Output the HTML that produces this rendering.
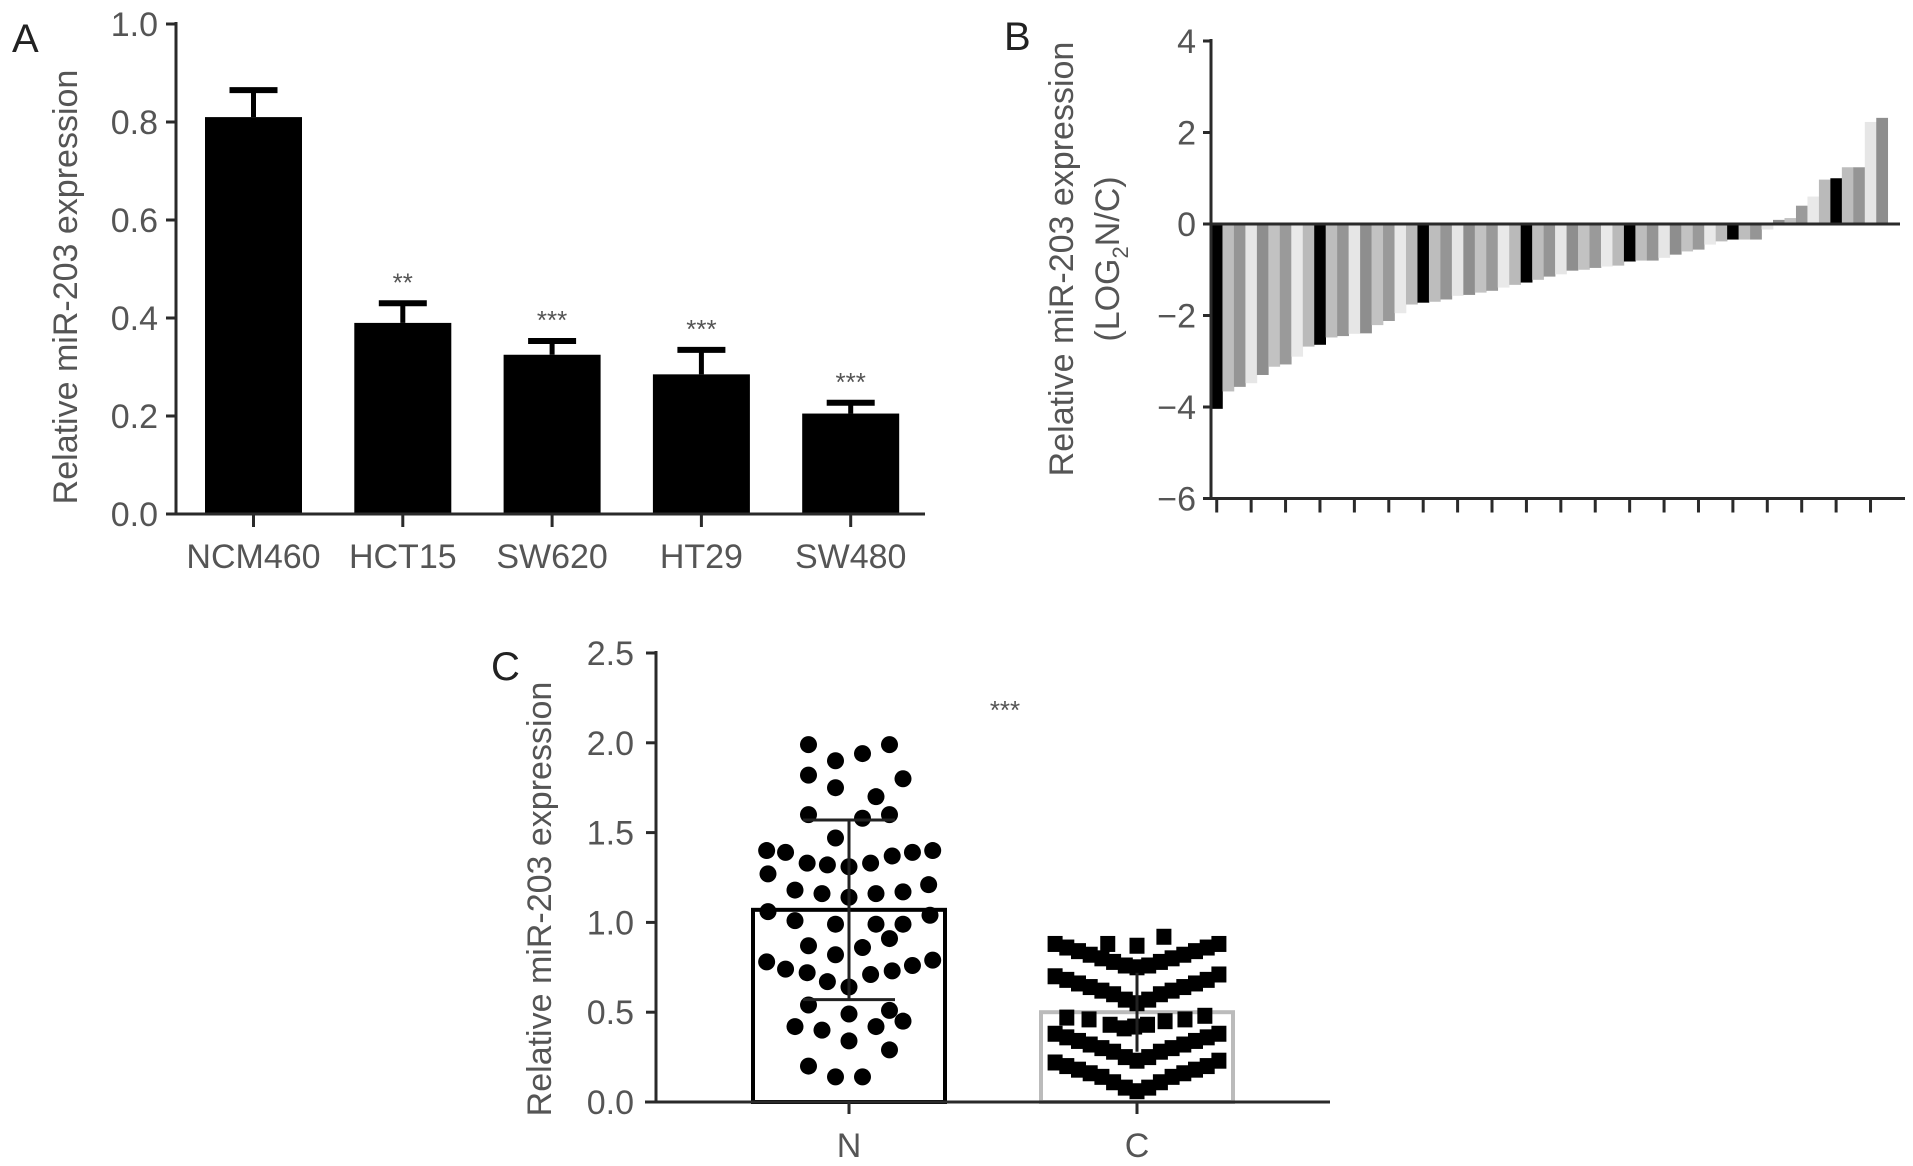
<!DOCTYPE html>
<html><head><meta charset="utf-8"><style>
html,body{margin:0;padding:0;background:#fff;}
svg{display:block;font-family:"Liberation Sans",sans-serif;}
.tk{font-size:34px;fill:#555;}
.ttl{font-size:34px;fill:#555;}
.pl{font-size:40px;fill:#222;}
</style></head><body>
<svg id="fig" width="1913" height="1166" viewBox="0 0 1913 1166" xmlns="http://www.w3.org/2000/svg">
<g id="pa"></g>
<g id="pb"></g>
<g id="pc"></g>
</svg>
<script>
// Panel A data
const aCats = ["NCM460","HCT15","SW620","HT29","SW480"];
const aVals = [0.81,0.39,0.325,0.285,0.205];
const aErr = [0.055,0.04,0.028,0.05,0.022];
const aStars = ["","**","***","***","***"];
const aTicks = ["0.0","0.2","0.4","0.6","0.8","1.0"];
// Panel B data
const bVals = [-4.04,-3.66,-3.56,-3.48,-3.30,-3.12,-3.07,-2.90,-2.68,-2.64,-2.48,-2.45,-2.40,-2.39,-2.21,-2.12,-1.95,-1.76,-1.72,-1.70,-1.65,-1.57,-1.55,-1.50,-1.46,-1.39,-1.33,-1.28,-1.22,-1.15,-1.10,-1.02,-1.00,-0.96,-0.93,-0.91,-0.82,-0.80,-0.80,-0.74,-0.67,-0.60,-0.56,-0.45,-0.38,-0.34,-0.34,-0.34,-0.12,0.09,0.13,0.40,0.60,0.97,1.00,1.24,1.24,2.23,2.32];
const bTicks = ["−6","−4","−2","0","2","4"];
const bTickVals = [-6,-4,-2,0,2,4];
// Panel C data
const cCats = ["N","C"];
const cMeans = [1.07,0.50];
const cSD = [0.50,0.22];
const cTicks = ["0.0","0.5","1.0","1.5","2.0","2.5"];
const nVals = [1.99,1.99,1.94,1.90,1.82,1.80,1.75,1.70,1.60,1.60,1.58,1.47,1.40,1.39,1.40,1.39,1.37,1.33,1.32,1.31,1.33,1.27,1.21,1.18,1.16,1.14,1.16,1.17,1.06,1.04,1.01,0.99,0.99,0.99,0.91,0.87,0.86,0.82,0.78,0.74,0.72,0.67,0.64,0.71,0.73,0.76,0.79,0.54,0.51,0.49,0.45,0.42,0.40,0.42,0.34,0.29,0.20,0.14,0.14];
const nCols = [-3,3,1,-1,-3,4,-1,2,-3,3,1,-1,-6.1,-4.7,6.2,4.7,3.2,-3.1,-1.6,0,1.6,-6,5.9,-4,-2,0,2,4,-6,6,-4,-1,2,4,3,-3,1,-1,-6.1,-4.7,-3.1,-1.6,0,1.6,3.2,4.7,6.2,-3,3,0,4,-4,-2,2,0,3,-3,-1,1];
const cValsTop = [0.88,0.87,0.92];
const cColsTop = [-2.5,0,2.3];
const cRowCols = [-7,-6,-5,-4,-3,-2,-1,0,1,2,3,4,5,6,7];
const cRow1 = [0.88,0.86,0.84,0.82,0.80,0.78,0.76,0.75,0.76,0.78,0.80,0.82,0.84,0.86,0.88];
const cRow2 = [0.70,0.68,0.66,0.64,0.62,0.60,0.57,0.55,0.57,0.60,0.62,0.64,0.66,0.68,0.71];
const cRow3 = [0.47,0.46,0.43,0.41,0.42,0.43,0.45,0.46,0.48];
const cRow3Cols = [-6,-4.1,-2.3,-1.1,-0.2,0.9,2.4,4.1,5.8];
const cRow4 = [0.38,0.36,0.34,0.32,0.30,0.28,0.25,0.23,0.25,0.28,0.30,0.32,0.34,0.36,0.38];
const cRow5 = [0.22,0.20,0.18,0.16,0.14,0.11,0.08,0.06,0.08,0.11,0.14,0.16,0.18,0.20,0.23];

const NS="http://www.w3.org/2000/svg";
function mk(p,tag,at){const e=document.createElementNS(NS,tag);for(const k in at)e.setAttribute(k,at[k]);p.appendChild(e);return e;}
function txt(p,x,y,s,cls,anchor,extra){const t=mk(p,"text",Object.assign({x:x,y:y,class:cls,"text-anchor":anchor||"middle"},extra||{}));t.textContent=s;return t;}
const AX="#2a2a2a";

// ---------- Panel A ----------
const pa=document.getElementById("pa");
const yA=v=>514-v*490;
const xA=i=>253.5+i*149.3;
let e;
e=txt(pa,12,52,"A","pl","start");


e=txt(pa,0,0,"Relative miR-203 expression","ttl","middle",{transform:"translate(77,287) rotate(-90)"});


aTicks.forEach((t,i)=>{
  const v=i*0.2;
  e=mk(pa,"line",{x1:166,x2:176,y1:yA(v),y2:yA(v),stroke:AX,"stroke-width":3});
  
  
  e=txt(pa,158,yA(v)+12,t,"tk","end");
  
  
});
aVals.forEach((v,i)=>{
  const cx=xA(i);
  e=mk(pa,"line",{x1:cx,x2:cx,y1:yA(v),y2:yA(v+aErr[i]),stroke:"#000","stroke-width":5});
  
  
  e=mk(pa,"line",{x1:cx-24,x2:cx+24,y1:yA(v+aErr[i]),y2:yA(v+aErr[i]),stroke:"#000","stroke-width":6});
  
  
  e=mk(pa,"rect",{x:cx-48.5,y:yA(v),width:97,height:yA(0)-yA(v),fill:"#000"});
  
  
  e=mk(pa,"line",{x1:cx,x2:cx,y1:514,y2:527,stroke:AX,"stroke-width":3});
  
  
  e=txt(pa,cx,568,aCats[i],"tk","middle");
  
  
  if(aStars[i]){
    e=txt(pa,cx,yA(v+aErr[i])-12,aStars[i],"tk","middle",{style:"font-size:26px"});
    
    
  }
});
e=mk(pa,"line",{x1:176,x2:176,y1:22,y2:515,stroke:AX,"stroke-width":3});


e=mk(pa,"line",{x1:166,x2:925,y1:514,y2:514,stroke:AX,"stroke-width":3});



// ---------- Panel B ----------
const pb=document.getElementById("pb");
const yB=v=>224-v*45.75;
const bw=11.47;
const xB=i=>1211+i*bw;
const bPal=["#000","#bdbdbd","#959595","#e6e6e6","#8e8e8e","#c2c2c2","#9a9a9a","#e9e9e9","#bababa"];
e=txt(pb,1004,50,"B","pl","start");


e=txt(pb,0,0,"Relative miR-203 expression","ttl","middle",{transform:"translate(1073,259) rotate(-90)"});


e=mk(pb,"text",{class:"ttl","text-anchor":"middle",transform:"translate(1119,259) rotate(-90)"});
e.innerHTML='(LOG<tspan dy="9" style="font-size:22px">2</tspan><tspan dy="-9">N/C)</tspan>';


bVals.forEach((v,i)=>{
  const y0=Math.min(yB(0),yB(v)),h=Math.abs(yB(v)-yB(0));
  e=mk(pb,"rect",{x:xB(i),y:y0,width:bw+0.3,height:h,fill:bPal[i%9]});
  
  
});
bTickVals.forEach((v,i)=>{
  e=mk(pb,"line",{x1:1203,x2:1212,y1:yB(v),y2:yB(v),stroke:AX,"stroke-width":3});
  
  
  e=txt(pb,1196,yB(v)+12,bTicks[i],"tk","end");
  
  
});
for(let k=0;k<20;k++){
  const cx=xB(3*k)+bw/2;
  e=mk(pb,"line",{x1:cx,x2:cx,y1:yB(-6),y2:yB(-6)+14,stroke:AX,"stroke-width":3});
  
  
}
e=mk(pb,"line",{x1:1211,x2:1900,y1:yB(0),y2:yB(0),stroke:AX,"stroke-width":3});


e=mk(pb,"line",{x1:1211,x2:1905,y1:yB(-6),y2:yB(-6),stroke:AX,"stroke-width":3});


e=mk(pb,"line",{x1:1211,x2:1211,y1:yB(4)-2,y2:yB(-6)+1,stroke:AX,"stroke-width":3});



// ---------- Panel C ----------
const pc=document.getElementById("pc");
const yC=v=>1102-v*179.6;
const xC=[849,1137];
e=txt(pc,491,680,"C","pl","start");


e=txt(pc,0,0,"Relative miR-203 expression","ttl","middle",{transform:"translate(551,899) rotate(-90)"});


cTicks.forEach((t,i)=>{
  const v=i*0.5;
  e=mk(pc,"line",{x1:646,x2:656,y1:yC(v),y2:yC(v),stroke:AX,"stroke-width":3});
  
  
  e=txt(pc,634,yC(v)+12,t,"tk","end");
  
  
});
e=mk(pc,"rect",{x:xC[0]-96,y:yC(cMeans[0]),width:192,height:yC(0)-yC(cMeans[0]),fill:"none",stroke:"#000","stroke-width":4});


e=mk(pc,"rect",{x:xC[1]-96,y:yC(cMeans[1]),width:192,height:yC(0)-yC(cMeans[1]),fill:"none",stroke:"#bbb","stroke-width":4});


nVals.forEach((v,i)=>{
  e=mk(pc,"circle",{cx:xC[0]+nCols[i]*13.5,cy:yC(v),r:8.5,fill:"#000"});
  
  
});
function sq(vals,cols){vals.forEach((v,i)=>{
  e=mk(pc,"rect",{x:xC[1]+cols[i]*11.7-7.5,y:yC(v)-8,width:15,height:16,fill:"#000"});
  
  
});}
sq(cValsTop,cColsTop);sq(cRow1,cRowCols);sq(cRow2,cRowCols);sq(cRow3,cRow3Cols);sq(cRow4,cRowCols);sq(cRow5,cRowCols);
[0,1].forEach(i=>{
  const lo=cMeans[i]-cSD[i],hi=cMeans[i]+cSD[i];
  e=mk(pc,"line",{x1:xC[i],x2:xC[i],y1:yC(lo),y2:yC(hi),stroke:"#222","stroke-width":3});
  
  
  if(i===0){
    [lo,hi].forEach(v=>{
      e=mk(pc,"line",{x1:xC[i]-46,x2:xC[i]+46,y1:yC(v),y2:yC(v),stroke:"#222","stroke-width":3});
      
      
    });
  }
  e=mk(pc,"line",{x1:xC[i],x2:xC[i],y1:1102,y2:1114,stroke:AX,"stroke-width":3});
  
  
  e=txt(pc,xC[i],1157,cCats[i],"tk","middle");
  
  
});
e=txt(pc,1005,719,"***","tk","middle",{style:"font-size:26px"});


e=mk(pc,"line",{x1:656,x2:656,y1:651,y2:1103,stroke:AX,"stroke-width":3});


e=mk(pc,"line",{x1:645,x2:1330,y1:1102,y2:1102,stroke:AX,"stroke-width":3});


</script>
</body></html>
